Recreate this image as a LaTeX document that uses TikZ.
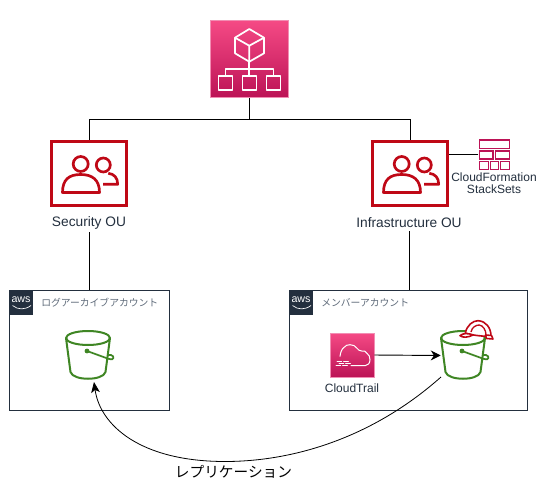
\documentclass[tikz,border=0pt]{standalone}
\usepackage{fontspec}
\setmainfont{Liberation Sans}
\newfontfamily\cjk{Noto Sans CJK JP}
\usetikzlibrary{arrows.meta,positioning}
\usepackage{xcolor}
\definecolor{AwsInk}{HTML}{232F3E}
\definecolor{AwsMuted}{HTML}{5F6B7A}
\definecolor{AwsRed}{HTML}{BF0816}
\definecolor{AwsGreen}{HTML}{3F8624}
\definecolor{AwsPink}{HTML}{BC1356}
\definecolor{AwsPinkTop}{HTML}{F54A85}
\definecolor{AwsPinkEdge}{HTML}{F28DB3}

\begin{document}
\begin{tikzpicture}[
  x=0.75pt,y=-0.75pt,font=\fontsize{9}{8.8}\selectfont,>=Latex,
  link/.style={draw=black,line width=0.7pt},
  flow/.style={-{Stealth[length=7.5pt,width=7.5pt]},draw=black,line width=0.7pt},
  curved/.style={-{Stealth[length=8pt,width=6.5pt,inset=2pt]},draw=black,line width=0.6pt},
  service/.style={draw=AwsPinkEdge,top color=AwsPinkTop,bottom color=AwsPink,
    line width=0.6pt,inner sep=0pt},
  ou/.style={draw=AwsRed,fill=white,line width=2.5pt,minimum width=56.3pt,
    minimum height=47.9pt,inner sep=0pt},
  account/.style={draw=AwsInk,fill=white,line width=0.75pt,inner sep=0pt},
  awslogo/.style={fill=AwsInk,minimum width=18pt,minimum height=18.75pt,inner sep=0pt},
  icon/.style={minimum width=35.25pt,minimum height=36.75pt,inner sep=0pt},
  caption/.style={text=AwsInk,inner sep=0pt,align=center},
  oulabel/.style={caption,font=\fontsize{10.3}{12}\selectfont,inner ysep=2.5pt},
  jplabel/.style={text=AwsMuted,inner sep=0pt,anchor=west,font=\cjk\fontsize{7.35}{9}\selectfont},
  whiteline/.style={draw=white,line width=1.3pt,line join=round},
  thinwhite/.style={draw=white,line width=0.75pt,line cap=round,line join=round},
  pail/.style={draw=AwsGreen,line width=1.5pt,line join=round},
  brick/.style={draw=AwsPink,line width=1pt},
  people/.pic={
    \draw[AwsRed,line width=2pt] (-8.3,-9.5) circle[radius=7.5];
    \draw[AwsRed,line width=2pt,line join=round]
      (-26.5,19) .. controls (-26.5,6) and (-20,1) .. (-8.3,1)
      .. controls (3,1) and (10.5,6) .. (10.5,19) -- cycle;
    \draw[AwsRed,line width=2pt] (14.3,-8.5) circle[radius=7];
    \draw[AwsRed,line width=2pt,line join=round]
      (19.3,-0.2) .. controls (25,0.5) and (28.7,4) .. (28.7,10.8) -- (14,10.8);
  },
  bucket/.pic={
    \draw[pail] (0,0) ellipse[x radius=22,y radius=7];
    \draw[pail] (-22,0) -- (-17.5,34) .. controls (-15,43) and (15,43) .. (17.5,34) -- (22,0);
    \fill[AwsGreen] (-1,13) circle[radius=2.4];
    \draw[pail,line width=1.3pt] (-1,13) -- (21,21) .. controls (26,23) and (27,18) .. (23,17) -- (20,17);
  }
]

% Root of the organisation and the two OU branches below it
\node[service,minimum width=58.5pt,minimum height=58pt] (org) at (249.5,59) {};
\coordinate (bus) at (249.5,119);
\node[ou] (security) at (89,173.5) {};
\node[ou] (infra) at (410,173.5) {};
\pic at (89,173.5) {people};
\pic at (410,173.5) {people};
\node[oulabel] (seclabel) at (89,222.5) {Security OU};
\node[oulabel] (inflabel) at (409,222.5) {Infrastructure OU};

\node[minimum width=23pt,minimum height=23pt,inner sep=0pt] (stacks) at (494,154.5) {};
\node[caption] (stacklabel) at (494,183.5) {CloudFormation\\StackSets};

\node[account,minimum width=120pt,minimum height=90pt] (logacct) at (89,350) {};
\node[account,minimum width=179pt,minimum height=90pt] (member) at (408.5,350) {};
\node[awslogo] (logaws) at (21,302.5) {};
\node[awslogo] (memaws) at (301,302.5) {};
\node[jplabel] (logname) at (41,303) {ログアーカイブアカウント};
\node[jplabel] (memname) at (321,303) {メンバーアカウント};

\node[icon] (logbucket) at (89.5,355.5) {};
\node[icon] (repbucket) at (464.5,355.5) {};
\node[service,minimum width=33pt,minimum height=33pt] (trail) at (352,355) {};
\node[caption] (traillabel) at (352,388) {CloudTrail};
\node[inner sep=0pt,font=\cjk\fontsize{11}{12}\selectfont] (replabel) at (233.5,471.5) {レプリケーション};

\draw[link] (org) -- (bus);
\draw[link] (bus) -| (security.north);
\draw[link] (bus) -| (infra.north);
\draw[link] (stacks.west) -- (stacks.west -| infra.east);
\draw[link] (seclabel.south) -- (seclabel.south |- logacct.north);
\draw[link] (inflabel.south) -- (inflabel.south |- member.north);
\draw[flow] (trail.east) -- (repbucket.west);

\coordinate (repout) at (441,377);
\coordinate (repin) at (94,382);
\draw[curved] (repout) .. controls (370,440) and (290,461.5) .. (225,461.5)
  .. controls (140,461.5) and (100,425) .. (repin);

% aws marks
\foreach \lx in {21,301} {
  \node[text=white,inner sep=0pt,font=\fontsize{8}{8}\selectfont] at (\lx,299.5) {aws};
  \draw[white,line width=0.5pt] (\lx-8.5,305.5) .. controls (\lx-3,310) and (\lx+4,310) .. (\lx+10,305.5);
}

% organisation glyph
\draw[whiteline] (249.3,29) -- (264,37.7) -- (264,53.3) -- (249.3,61.7) -- (235,53.3) -- (235,37.7) -- cycle;
\draw[whiteline] (235,37.7) -- (249.3,45.7) -- (264,37.7) (249.3,45.7) -- (249.3,61.7);
\draw[whiteline] (249.3,61.7) -- (249.3,76) (225.5,76) -- (225.5,69.3) -- (273.5,69.3) -- (273.5,76);
\foreach \bx in {225.5,249.5,273.5} {
  \draw[whiteline] (\bx-7,76) rectangle (\bx+7,90);
}

% stack set bricks
\draw[brick] (479.5,140) rectangle (509.5,148.3);
\draw[brick] (479.5,151) rectangle (493,159);
\draw[brick] (495.5,151) rectangle (509.5,159);
\draw[brick] (479.5,161.3) rectangle (488.5,169.3);
\draw[brick] (490.5,161.3) rectangle (498.5,169.3);
\draw[brick] (500.5,161.3) rectangle (509.5,169.3);

% trail glyph
\draw[thinwhite] (340,356.3) .. controls (340.5,352) and (342,349) .. (343.3,348)
  .. controls (345,345.5) and (348,344.5) .. (350,344.7)
  .. controls (353,344.7) and (355.5,346) .. (356.7,348)
  .. controls (358,350) and (360,351) .. (361.7,351)
  .. controls (364,350.5) and (366,351.5) .. (366.7,353)
  .. controls (369,354.5) and (370,357) .. (370,359.7)
  .. controls (370,363) and (368,365.7) .. (365,365.7) -- (351,365.7);
\foreach \ly/\lx in {361.3/337,363.7/339,365.9/336} {
  \draw[thinwhite,dash pattern=on 3.5pt off 1.5pt] (\lx,\ly) -- (\lx+12,\ly);
}

% buckets
\pic at (88,338) {bucket};
\pic at (463,338) {bucket};

% hard hat on the replicated bucket
\draw[AwsRed,fill=white,line width=1.2pt,line join=round]
  (465.3,333) .. controls (467,325) and (473,320.7) .. (478,320.7)
  .. controls (486,321) and (491,328) .. (491,336)
  .. controls (486,337) and (470,335) .. (465.3,333) -- cycle;
\draw[AwsRed,line width=1pt] (471,332) .. controls (472,327) and (476,325) .. (479.3,325)
  .. controls (483,325.5) and (486,330) .. (486,335);
\draw[AwsRed,fill=white,line width=1.2pt,line join=round]
  (460,335.7) .. controls (463,333) and (468,333) .. (473,335)
  .. controls (468,337.5) and (463,338) .. (460,335.7) -- cycle;
\draw[AwsRed,fill=white,line width=1.2pt,line join=round]
  (485.5,335) -- (491.5,335.5) -- (493,339) -- (486.5,338.5) -- cycle;

\useasboundingbox (0,0) rectangle (538,491);
\end{tikzpicture}
\end{document}
